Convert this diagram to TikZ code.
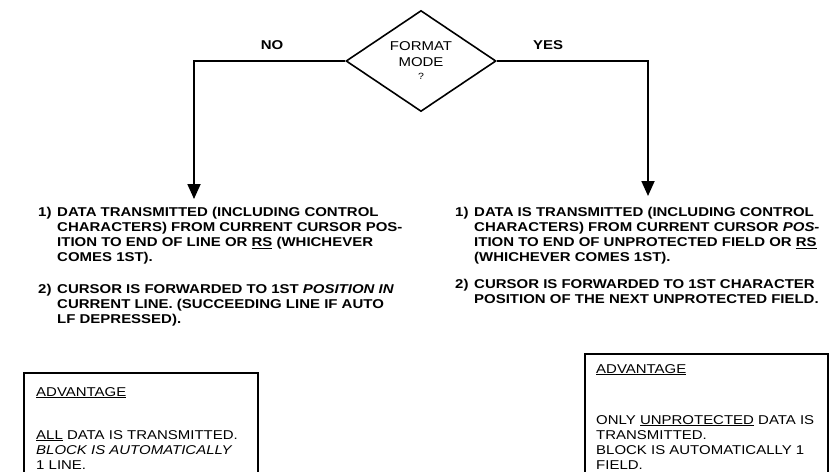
\documentclass[tikz,border=0pt]{standalone}
\usepackage{fontspec}
\setmainfont{Liberation Sans}[FakeStretch=1.17]
\usetikzlibrary{shapes.geometric,arrows.meta}
\newcommand{\bodyfs}{\fontsize{12.8}{15}\selectfont}
\begin{document}
\begin{tikzpicture}[x=1pt,y=-1pt,
  flow/.style={line width=1.8pt,-{Triangle[width=13pt,length=15pt]}},
  boxline/.style={line width=1.3pt},
  decision/.style={diamond,draw,line width=1.6pt,minimum width=150pt,minimum height=101pt,shape aspect=1.5,inner sep=0pt,align=center,font=\fontsize{12.8}{16}\selectfont},
  branchlbl/.style={font=\bfseries\fontsize{12.8}{14}\selectfont,anchor=base},
  itemtxt/.style={anchor=north west,inner sep=0pt,font=\bfseries\bodyfs},
  advtxt/.style={anchor=north west,inner sep=0pt,align=left,font=\bodyfs}]
\useasboundingbox (0,0) rectangle (832,471);
\fill[white] (0,0) rectangle (832,471);

\node[decision] (dia) at (421,61) {FORMAT\\MODE\\[-3pt]{\small ?}};
\node[branchlbl] (no) at (272,49) {NO};
\node[branchlbl] (yes) at (548,49) {YES};

\coordinate (lturn) at (194,61);
\coordinate (lend) at (194,199);
\coordinate (rturn) at (648,61);
\coordinate (rend) at (648,196);
\draw[flow] (dia.west) -- (lturn) -- (lend);
\draw[flow] (dia.east) -- (rturn) -- (rend);

\node[itemtxt] (l1) at (38,206) {\begin{tabular}{@{}p{19pt}@{}l@{}}
1) & DATA TRANSMITTED (INCLUDING CONTROL\\
   & CHARACTERS) FROM CURRENT CURSOR POS-\\
   & ITION TO END OF LINE OR \underline{RS} (WHICHEVER\\
   & COMES 1ST).\end{tabular}};
\node[itemtxt] (l2) at (38,283) {\begin{tabular}{@{}p{19pt}@{}l@{}}
2) & CURSOR IS FORWARDED TO 1ST {\itshape POSITION IN}\\
   & CURRENT LINE. (SUCCEEDING LINE IF AUTO\\
   & LF DEPRESSED).\end{tabular}};

\node[itemtxt] (r1) at (455,206) {\begin{tabular}{@{}p{19pt}@{}l@{}}
1) & DATA IS TRANSMITTED (INCLUDING CONTROL\\
   & CHARACTERS) FROM CURRENT CURSOR {\itshape POS-}\\
   & ITION TO END OF UNPROTECTED FIELD OR \underline{RS}\\
   & (WHICHEVER COMES 1ST).\end{tabular}};
\node[itemtxt] (r2) at (455,278) {\begin{tabular}{@{}p{19pt}@{}l@{}}
2) & CURSOR IS FORWARDED TO 1ST CHARACTER\\
   & POSITION OF THE NEXT UNPROTECTED FIELD.\end{tabular}};

% advantage boxes (open at the bottom)
\draw[boxline] (24,475) -- (24,373) -- (258,373) -- (258,475);
\node[advtxt] (lat) at (36,387) {\underline{ADVANTAGE}};
\node[advtxt] (lab) at (36,430) {\underline{ALL} DATA IS TRANSMITTED.\\
{\itshape BLOCK IS AUTOMATICALLY}\\
1 LINE.};

\draw[boxline] (585,475) -- (585,354) -- (828,354) -- (828,475);
\node[advtxt] (rat) at (596,364) {\underline{ADVANTAGE}};
\node[advtxt] (rab) at (596,415) {ONLY \underline{UNPROTECTED} DATA IS\\
TRANSMITTED.\\
BLOCK IS AUTOMATICALLY 1\\
FIELD.};
\end{tikzpicture}
\end{document}
